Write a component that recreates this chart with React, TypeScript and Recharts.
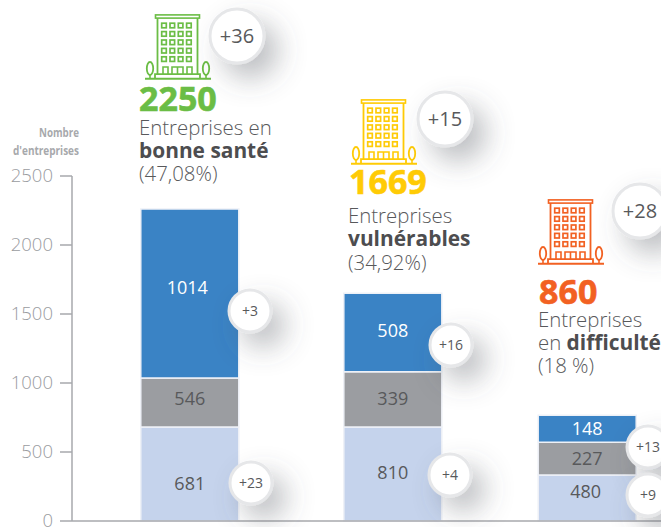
import React from "react";
import { BarChart, Bar, XAxis, YAxis, LabelList } from "recharts";

const FONT = "'Open Sans', sans-serif";

const companies = ["bonne santé", "vulnérables", "difficulté"];
const slots = [0.2003, 0.545, 0.875];
const lowerHeights = [681, 681, 333];
const middleHeights = [355, 400, 238];
const upperHeights = [1224, 570, 195];
const lowerLabels = ["681", "810", "480"];
const middleLabels = ["546", "339", "227"];
const upperLabels = ["1014", "508", "148"];
const yTicks = [0, 500, 1000, 1500, 2000, 2500];

const rows = companies.map((name, i) => ({
  name,
  slot: slots[i],
  lower: lowerHeights[i],
  middle: middleHeights[i],
  upper: upperHeights[i],
}));

const labelNudge = {
  lower: [10, -1, -6],
  middle: [-4, 0, 0],
  upper: [-6, -1, 0],
};
const labelShift = {
  lower: [0, 0, -1.5],
  middle: [0, 0, 0],
  upper: [-2.5, 0, 0],
};

const segmentLabel = (texts: string[], nudges: number[], shifts: number[], fill: string) => (p: any) => {
  const i = p.index;
  return (
    <text
      x={p.x + p.width / 2 + shifts[i]}
      y={p.y + p.height / 2 + nudges[i] + 6}
      textAnchor="middle"
      fontFamily={FONT}
      fontSize={18}
      fill={fill}
    >
      {texts[i]}
    </text>
  );
};

const Building = ({ x, y, color }: { x: number; y: number; color: string }) => {
  const cols = [0, 1, 2, 3];
  const rws = [0, 1, 2, 3, 4];
  return (
    <g transform={`translate(${x},${y})`} fill="none" stroke={color} strokeWidth={1.6}>
      <rect x={10.5} y={0.9} width={44} height={3.2} />
      <path d="M12.5 4 V60 M52.5 4 V60" strokeWidth={1.8} />
      {rws.map((r) =>
        cols.map((c) => (
          <rect key={`${r}-${c}`} x={16.7 + c * 8.3} y={9.2 + r * 8.4} width={4.6} height={4.6} strokeWidth={1.7} />
        ))
      )}
      <path d="M18 60 V53 H23 V60 M27 60 V53 H38 V60 M32.5 53 V60 M42 60 V53 H47 V60" />
      <path d="M10 64 V60.2 H55 V64" strokeWidth={1.8} />
      <path d="M0 64.7 H66" strokeWidth={2} />
      <ellipse cx={5} cy={54.5} rx={3.2} ry={6.5} strokeWidth={1.8} />
      <path d="M5 61 V64" />
      <ellipse cx={61} cy={54.5} rx={3.2} ry={6.5} strokeWidth={1.8} />
      <path d="M61 61 V64" />
    </g>
  );
};

const Badge = ({ cx, cy, r, text, size }: { cx: number; cy: number; r: number; text: string; size: number }) => (
  <g>
    <circle cx={cx} cy={cy} r={r} fill="#fff" stroke="#e6e7e9" strokeWidth={3} filter="url(#badgeShadow)" />
    <text x={cx} y={cy + size * 0.36} textAnchor="middle" fontFamily={FONT} fontSize={size} fill="#58595b">
      {text}
    </text>
  </g>
);

const Heading = ({
  x, y, color, total, lines,
}: { x: number; y: number; color: string; total: string; lines: React.ReactNode[] }) => (
  <g fontFamily={FONT}>
    <text x={x} y={y} fontSize={34} fontWeight={700} fill={color} stroke={color} strokeWidth={0.6}>{total}</text>
    {lines}
  </g>
);

const T = ({ x, y, bold, children }: { x: number; y: number; bold?: boolean; children: React.ReactNode }) => (
  <text x={x} y={y} fontSize={bold ? 20.9 : 20.4} fontWeight={bold ? 700 : 300} fill={bold ? "#4d4d4f" : "#58595b"}>
    {children}
  </text>
);

export default function App() {
  return (
    <div style={{ position: "absolute", left: 0, top: 0, width: 661, height: 527, overflow: "hidden", background: "#fff" }}>
      <BarChart
        width={661}
        height={527}
        data={rows}
        margin={{ top: 176, right: 0, bottom: 5, left: 0 }}
      >
        <XAxis
          type="number"
          dataKey="slot"
          domain={[0, 1]}
          tick={false}
          tickLine={false}
          height={1}
          axisLine={{ stroke: "#a7a9ac", strokeWidth: 1.5 }}
        />
        <YAxis
          type="number"
          width={72}
          domain={[0, 2500]}
          ticks={yTicks}
          tickSize={12}
          tickMargin={7}
          interval={0}
          tick={{ fontFamily: FONT, fontSize: 18.5, fontWeight: 300, fill: "#9a9c9f", dy: -1 }}
          tickLine={{ stroke: "#a7a9ac", strokeWidth: 1.5 }}
          axisLine={{ stroke: "#a7a9ac", strokeWidth: 1.5 }}
        />
        <Bar dataKey="lower" stackId="s" barSize={98} fill="#c5d3ec" stroke="#eef1f7" strokeWidth={1.5} isAnimationActive={false}>
          <LabelList content={segmentLabel(lowerLabels, labelNudge.lower, labelShift.lower, "#58595b")} />
        </Bar>
        <Bar dataKey="middle" stackId="s" barSize={98} fill="#9b9da1" stroke="#eef1f7" strokeWidth={1.5} isAnimationActive={false}>
          <LabelList content={segmentLabel(middleLabels, labelNudge.middle, labelShift.middle, "#58595b")} />
        </Bar>
        <Bar dataKey="upper" stackId="s" barSize={98} fill="#3a83c5" stroke="#eef1f7" strokeWidth={1.5} isAnimationActive={false}>
          <LabelList content={segmentLabel(upperLabels, labelNudge.upper, labelShift.upper, "#ffffff")} />
        </Bar>
      </BarChart>

      <svg width={661} height={527} style={{ position: "absolute", left: 0, top: 0, pointerEvents: "none" }}>
        <defs>
          <filter id="badgeShadow" x="-100%" y="-100%" width="350%" height="350%">
            <feDropShadow dx={13} dy={14} stdDeviation={14} floodColor="#50555f" floodOpacity={0.38} />
          </filter>
        </defs>

        <g fontFamily={FONT} fontWeight={700} fontSize={11.5} fill="#a7a9ac" textAnchor="end">
          <text x={79} y={137} textLength={40} lengthAdjust="spacingAndGlyphs">Nombre</text>
          <text x={79} y={155} textLength={66} lengthAdjust="spacingAndGlyphs">d'entreprises</text>
        </g>

        <Building x={145} y={14} color="#6bbd45" />
        <Building x={351} y={99} color="#ffcb05" />
        <Building x={538} y={199} color="#f26122" />

        <Heading x={139} y={111} color="#6bbd45" total="2250" lines={[
          <T key="a" x={139} y={135}>Entreprises en</T>,
          <T key="b" x={139} y={158} bold>bonne santé</T>,
          <T key="c" x={139} y={181}>(47,08%)</T>,
        ]} />
        <Heading x={349} y={194} color="#ffcb05" total="1669" lines={[
          <T key="a" x={348} y={223}>Entreprises</T>,
          <T key="b" x={348} y={246} bold>vulnérables</T>,
          <T key="c" x={348} y={270}>(34,92%)</T>,
        ]} />
        <Heading x={539} y={304} color="#f26122" total="860" lines={[
          <T key="a" x={538} y={327}>Entreprises</T>,
          <text key="b" x={538} y={350} fontSize={20.4} fontWeight={300} fill="#58595b">
            en <tspan fontWeight={700} fontSize={20.9} fill="#4d4d4f">difficulté</tspan>
          </text>,
          <T key="c" x={538} y={373}>(18 %)</T>,
        ]} />

        <Badge cx={237} cy={36} r={27} text="+36" size={20} />
        <Badge cx={445} cy={119} r={27} text="+15" size={20} />
        <Badge cx={640} cy={211} r={27} text="+28" size={20} />
        <Badge cx={250} cy={311} r={21} text="+3" size={14} />
        <Badge cx={451} cy={345} r={21} text="+16" size={14} />
        <Badge cx={251} cy={483} r={21} text="+23" size={14} />
        <Badge cx={450} cy={475} r={21} text="+4" size={14} />
        <Badge cx={648} cy={447} r={21} text="+13" size={14} />
        <Badge cx={648} cy={495} r={21} text="+9" size={14} />
      </svg>
    </div>
  );
}
